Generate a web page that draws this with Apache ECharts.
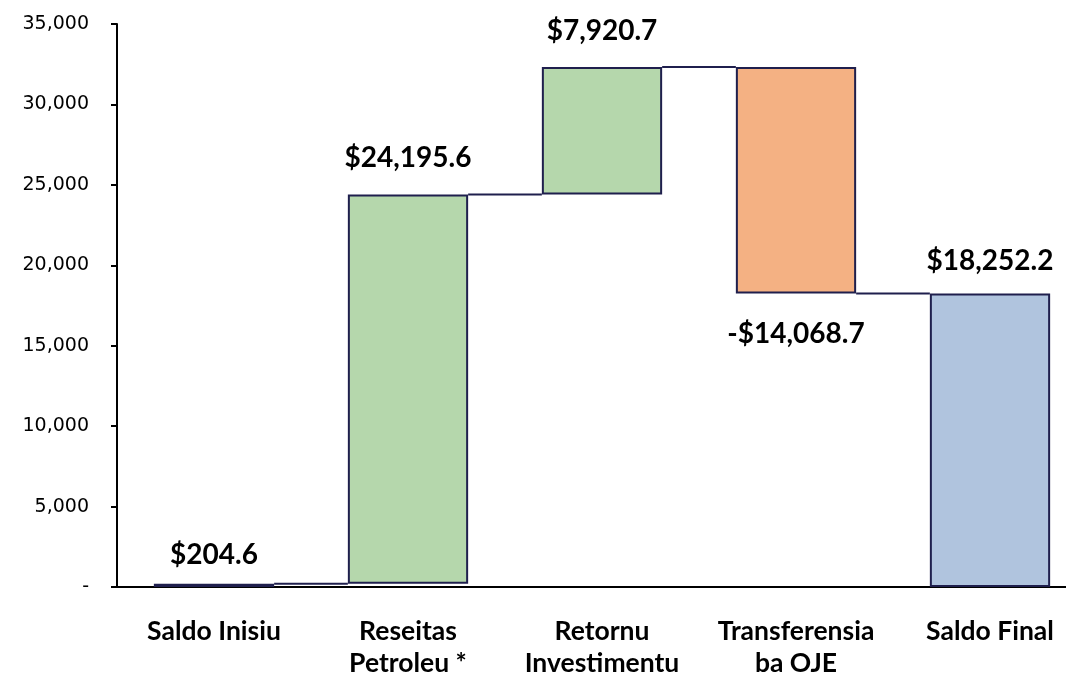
<!DOCTYPE html>
<html>
<head>
<meta charset="utf-8">
<script src="https://cdn.jsdelivr.net/npm/echarts@6/dist/echarts.min.js"></script>
<style>
  html, body { margin: 0; padding: 0; background: #ffffff; }
  #chart { width: 1066px; height: 680px; }
</style>
</head>
<body>
<div id="chart"></div>
<script>
// Waterfall of the fund balance: opening balance, inflows, outflow, closing balance
const categories = ['Saldo Inisiu', 'Reseitas\nPetroleu *', 'Retornu\nInvestimentu', 'Transferensia\nba OJE', 'Saldo Final'];
const changes = [204.6, 24195.6, 7920.7, -14068.7, 18252.2];
const kinds = ['total', 'increase', 'increase', 'decrease', 'total'];
const yTicks = { min: 0, max: 35000, interval: 5000 };

const colors = { total: '#b0c4de', increase: '#b5d7ac', decrease: '#f4b183' };
const edge = '#1f1f4d';
// spacing between each bar end and its value label, in pixels
const labelGap = [15, 23, 22, 27, 18];

// Build invisible bases, visible segments and the running levels for connectors
const bases = [];
const segments = [];
const levels = [];
let running = 0;
changes.forEach((v, i) => {
  const kind = kinds[i];
  if (kind === 'total') {
    bases.push(0);
    segments.push(v);
    running = v;
  } else if (v >= 0) {
    bases.push(running);
    segments.push(v);
    running += v;
  } else {
    running += v;
    bases.push(running);
    segments.push(-v);
  }
  levels.push(running);
});

function money(v) {
  const s = Math.abs(v).toLocaleString('en-US', { minimumFractionDigits: 1, maximumFractionDigits: 1 });
  return (v < 0 ? '-$' : '$') + s;
}

const gapFrac = 0.38;

const chart = echarts.init(document.getElementById('chart'), null, { renderer: 'canvas' });
chart.setOption({
  animation: false,
  grid: { left: 117, top: 24, bottom: 93, right: -21, containLabel: false, outerBoundsMode: 'none' },
  xAxis: {
    type: 'category',
    data: categories,
    axisLine: { lineStyle: { color: '#000', width: 2 } },
    axisTick: { show: false },
    axisLabel: {
      color: '#000',
      fontFamily: 'Lato',
      fontWeight: 'bold',
      fontSize: 26.5,
      lineHeight: 32,
      margin: 28,
      interval: 0
    }
  },
  yAxis: {
    type: 'value',
    min: yTicks.min,
    max: yTicks.max,
    interval: yTicks.interval,
    splitLine: { show: false },
    axisLine: { show: true, lineStyle: { color: '#000', width: 2 } },
    axisTick: { show: true, inside: false, length: 6, lineStyle: { color: '#000', width: 2 } },
    axisLabel: {
      color: '#000',
      fontFamily: 'DejaVu Sans',
      fontSize: 19,
      margin: 28,
      formatter: v => (v === 0 ? '-' : v.toLocaleString('en-US'))
    }
  },
  series: [
    {
      name: 'base',
      type: 'bar',
      stack: 'wf',
      barCategoryGap: (gapFrac * 100) + '%',
      itemStyle: { color: 'transparent' },
      emphasis: { disabled: true },
      data: bases,
      z: 2
    },
    {
      name: 'value',
      type: 'bar',
      stack: 'wf',
      barCategoryGap: (gapFrac * 100) + '%',
      data: segments.map((s, i) => ({
        value: s,
        itemStyle: { color: colors[kinds[i]], borderColor: edge, borderWidth: 2 },
        label: {
          show: true,
          position: kinds[i] === 'decrease' ? 'bottom' : 'top',
          distance: labelGap[i],
          formatter: () => money(changes[i]),
          color: '#000',
          fontFamily: 'Lato',
          fontWeight: 'bold',
          fontSize: 28
        }
      })),
      z: 3
    },
    {
      name: 'connector',
      type: 'custom',
      data: levels.slice(0, -1).map((lv, i) => [i, lv]),
      renderItem: (params, api) => {
        const i = api.value(0);
        const lv = api.value(1);
        const a = api.coord([i, lv]);
        const b = api.coord([i + 1, lv]);
        const half = api.size([1, 0])[0] * (1 - gapFrac) / 2;
        return {
          type: 'line',
          shape: { x1: a[0] + half, y1: a[1], x2: b[0] - half, y2: b[1] },
          style: { stroke: edge, lineWidth: 2 }
        };
      },
      z: 4
    }
  ]
});
</script>
</body>
</html>
